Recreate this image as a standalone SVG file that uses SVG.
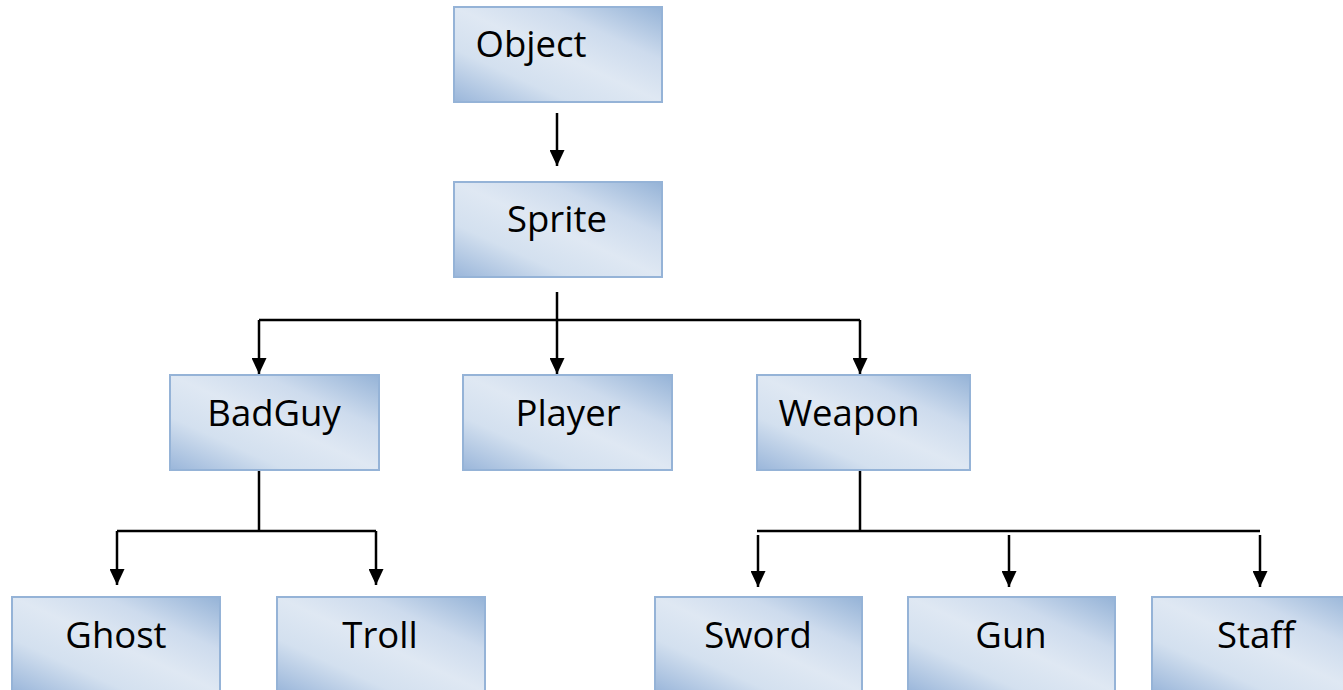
<svg xmlns="http://www.w3.org/2000/svg" width="1343" height="690" viewBox="0 0 1343 690">
  <defs>
    <linearGradient id="boxFill" x1="0" y1="1" x2="1" y2="0">
      <stop offset="0" stop-color="#9ab6da"/>
      <stop offset="0.28" stop-color="#d3e0ef"/>
      <stop offset="0.5" stop-color="#dfe8f3"/>
      <stop offset="0.72" stop-color="#cddbed"/>
      <stop offset="1" stop-color="#95b3d7"/>
    </linearGradient>
    <marker id="arrow" viewBox="0 0 16 15" refX="16" refY="7.5" markerWidth="16" markerHeight="15" markerUnits="userSpaceOnUse" orient="auto">
      <path d="M0,0 L16,7.5 L0,15 Z" fill="#000"/>
    </marker>
  </defs>
  <style>
    .box { fill: url(#boxFill); stroke: #95b3d7; stroke-width: 2; }
    .label { font-family: "Open Sans", "Liberation Sans", sans-serif; font-size: 36.5px; fill: #000; text-anchor: middle; }
    .wire { stroke: #000; stroke-width: 2.5; fill: none; }
    .arrow { stroke: #000; stroke-width: 2.5; fill: none; marker-end: url(#arrow); }
  </style>

  <rect width="1343" height="690" fill="#fff"/>

  <g id="connectors">
    <!-- Object to Sprite -->
    <line class="arrow" x1="557" y1="113" x2="557" y2="166"/>
    <!-- Sprite to BadGuy / Player / Weapon -->
    <line class="wire" x1="557" y1="292" x2="557" y2="320"/>
    <line class="wire" x1="259" y1="320" x2="860" y2="320"/>
    <line class="arrow" x1="259" y1="320" x2="259" y2="374"/>
    <line class="arrow" x1="557" y1="320" x2="557" y2="374"/>
    <line class="arrow" x1="860" y1="320" x2="860" y2="374"/>
    <!-- BadGuy to Ghost / Troll -->
    <line class="wire" x1="259" y1="470" x2="259" y2="531"/>
    <line class="wire" x1="117" y1="531" x2="376" y2="531"/>
    <line class="arrow" x1="117" y1="531" x2="117" y2="585"/>
    <line class="arrow" x1="376" y1="531" x2="376" y2="585"/>
    <!-- Weapon to Sword / Gun / Staff -->
    <line class="wire" x1="860" y1="470" x2="860" y2="531"/>
    <line class="wire" x1="757" y1="531" x2="1260" y2="531"/>
    <line class="arrow" x1="758" y1="535" x2="758" y2="587"/>
    <line class="arrow" x1="1009" y1="535" x2="1009" y2="587"/>
    <line class="arrow" x1="1260" y1="535" x2="1260" y2="587"/>
  </g>

  <g id="node-object">
    <rect class="box" x="454" y="7" width="208" height="95"/>
    <text class="label" x="531" y="57">Object</text>
  </g>
  <g id="node-sprite">
    <rect class="box" x="454" y="182" width="208" height="95"/>
    <text class="label" x="557" y="232">Sprite</text>
  </g>
  <g id="node-badguy">
    <rect class="box" x="170" y="375" width="209" height="95"/>
    <text class="label" x="274" y="426">BadGuy</text>
  </g>
  <g id="node-player">
    <rect class="box" x="463" y="375" width="209" height="95"/>
    <text class="label" x="568" y="426">Player</text>
  </g>
  <g id="node-weapon">
    <rect class="box" x="757" y="375" width="213" height="95"/>
    <text class="label" x="849" y="426">Weapon</text>
  </g>
  <g id="node-ghost">
    <rect class="box" x="12" y="597" width="208" height="95"/>
    <text class="label" x="116" y="648">Ghost</text>
  </g>
  <g id="node-troll">
    <rect class="box" x="277" y="597" width="208" height="95"/>
    <text class="label" x="380" y="648">Troll</text>
  </g>
  <g id="node-sword">
    <rect class="box" x="655" y="597" width="207" height="95"/>
    <text class="label" x="758" y="648">Sword</text>
  </g>
  <g id="node-gun">
    <rect class="box" x="908" y="597" width="207" height="95"/>
    <text class="label" x="1011" y="648">Gun</text>
  </g>
  <g id="node-staff">
    <rect class="box" x="1152" y="597" width="208" height="95"/>
    <text class="label" x="1256" y="648">Staff</text>
  </g>
</svg>
